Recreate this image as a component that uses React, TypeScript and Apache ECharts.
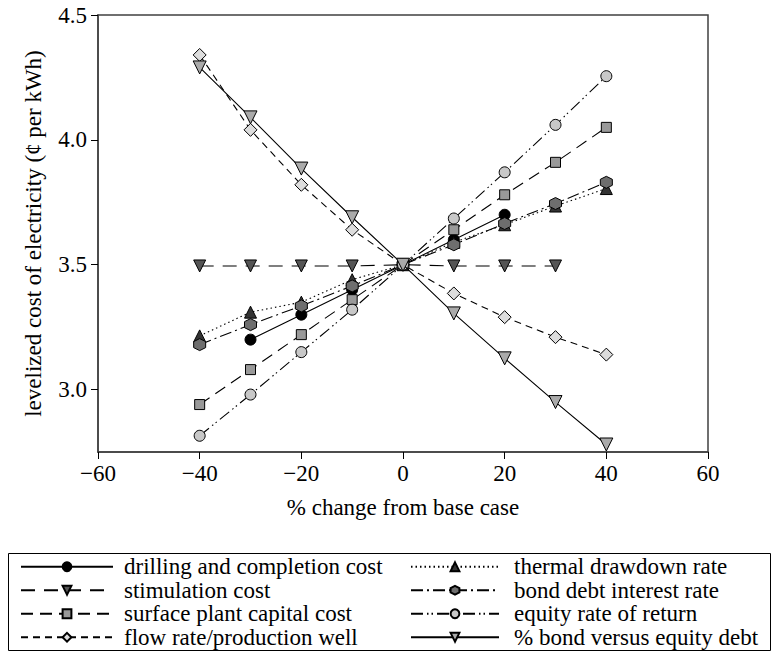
import React, { useEffect, useRef } from "react";
import * as echarts from "echarts";

const xValues = [-40, -30, -20, -10, 0, 10, 20, 30, 40];
const seriesNames = [
  "drilling and completion cost",
  "stimulation cost",
  "surface plant capital cost",
  "flow rate/production well",
  "thermal drawdown rate",
  "bond debt interest rate",
  "equity rate of return",
  "% bond versus equity debt",
];
const drilling = [null, 3.2, 3.3, 3.4, 3.5, 3.6, 3.7, null, null];
const stimulation = [3.495, 3.495, 3.495, 3.495, 3.5, 3.495, 3.495, 3.495, null];
const surfacePlant = [2.94, 3.08, 3.22, 3.36, 3.5, 3.64, 3.78, 3.91, 4.05];
const flowRate = [4.34, 4.04, 3.82, 3.64, 3.5, 3.385, 3.29, 3.21, 3.14];
const thermal = [3.215, 3.31, 3.35, 3.44, 3.5, 3.59, 3.66, 3.735, 3.805];
const bondInterest = [3.18, 3.26, 3.335, 3.415, 3.5, 3.58, 3.665, 3.745, 3.83];
const equityReturn = [2.815, 2.98, 3.15, 3.32, 3.5, 3.685, 3.87, 4.06, 4.255];
const bondVsEquity = [4.29, 4.09, 3.885, 3.69, 3.5, 3.305, 3.125, 2.95, 2.78];
const xTicks = [-60, -40, -20, 0, 20, 40, 60];
const yTicks = [3.0, 3.5, 4.0, 4.5];

const FONT = "'Liberation Serif', 'Times New Roman', serif";
const HEX = "path://M0,-10 L8.66,-5 L8.66,5 L0,10 L-8.66,5 L-8.66,-5 Z";

const styles = [
  { symbol: "circle", size: 11, rotate: 0, fill: "#000000", dash: "solid" as any },
  { symbol: "triangle", size: 12, rotate: 180, fill: "#555555", dash: [14, 9] },
  { symbol: "rect", size: 10, rotate: 0, fill: "#999999", dash: [12, 7] },
  { symbol: "diamond", size: 13, rotate: 0, fill: "#dddddd", dash: [7, 5] },
  { symbol: "triangle", size: 12, rotate: 0, fill: "#333333", dash: [1.5, 3] },
  { symbol: HEX, size: 12, rotate: 0, fill: "#6e6e6e", dash: [12, 4, 2, 4] },
  { symbol: "circle", size: 11, rotate: 0, fill: "#c8c8c8", dash: [12, 4, 1.5, 3, 1.5, 4] },
  { symbol: "triangle", size: 13, rotate: 180, fill: "#aaaaaa", dash: "solid" as any },
];
const dataSets = [drilling, stimulation, surfacePlant, flowRate, thermal, bondInterest, equityReturn, bondVsEquity];

export default function App() {
  const ref = useRef<HTMLDivElement>(null);
  useEffect(() => {
    if (!ref.current) return;
    const chart = echarts.init(ref.current, null, { renderer: "svg" });
    const series = dataSets.map((d, i) => ({
      name: seriesNames[i],
      type: "line",
      data: xValues.map((x, j) => [x, d[j]]),
      connectNulls: false,
      symbol: styles[i].symbol,
      symbolSize: styles[i].size,
      symbolRotate: styles[i].rotate,
      itemStyle: { color: styles[i].fill, borderColor: "#000", borderWidth: 1 },
      lineStyle: { color: "#000", width: 1.1, type: styles[i].dash },
      z: 2 + i,
    }));
    const legendCommon = {
      orient: "vertical",
      padding: 0,
      itemGap: 0,
      itemWidth: 92,
      itemHeight: 11,
      selectedMode: false,
      textStyle: { fontFamily: FONT, fontSize: 23, color: "#000", lineHeight: 23.5, padding: [0, 0, 0, 6] },
    };
    chart.setOption({
      animation: false,
      textStyle: { fontFamily: FONT },
      grid: {
        left: 98,
        top: 15,
        right: 63,
        bottom: 200,
        show: true,
        borderColor: "#404040",
        borderWidth: 1.5,
        backgroundColor: "transparent",
      },
      xAxis: {
        type: "value",
        min: -60,
        max: 60,
        interval: 20,
        name: "% change from base case",
        nameLocation: "middle",
        nameGap: 44,
        nameTextStyle: { fontFamily: FONT, fontSize: 23, color: "#000" },
        axisLine: { show: true, onZero: false, lineStyle: { color: "#404040", width: 1.5 } },
        axisTick: { show: true, length: 7, lineStyle: { color: "#000", width: 1 }, customValues: xTicks },
        axisLabel: {
          fontFamily: FONT,
          fontSize: 23,
          color: "#000",
          margin: 10,
          customValues: xTicks,
          formatter: (v: number) => String(v).replace("-", "\u2212"),
        },
        splitLine: { show: false },
      },
      yAxis: {
        type: "value",
        min: 2.75,
        max: 4.5,
        name: "levelized cost of electricity (\u00a2 per kWh)",
        nameLocation: "middle",
        nameGap: 53,
        nameTextStyle: { fontFamily: FONT, fontSize: 23, color: "#000" },
        axisLine: { show: true, onZero: false, lineStyle: { color: "#404040", width: 1.5 } },
        axisTick: { show: true, length: 7, lineStyle: { color: "#000", width: 1 }, customValues: yTicks },
        axisLabel: {
          fontFamily: FONT,
          fontSize: 23,
          color: "#000",
          margin: 11,
          customValues: yTicks,
          formatter: (v: number) => v.toFixed(1),
        },
        splitLine: { show: false },
      },
      legend: [
        { ...legendCommon, left: 20, top: 555, data: seriesNames.slice(0, 4) },
        { ...legendCommon, left: 410, top: 555, itemWidth: 88, textStyle: { ...legendCommon.textStyle, padding: [0, 0, 0, 10] }, data: seriesNames.slice(4) },
      ],
      graphic: [
        {
          type: "rect",
          shape: { x: 8.5, y: 553.5, width: 762, height: 97 },
          style: { fill: "none", stroke: "#000", lineWidth: 1 },
          silent: true,
        },
      ],
      series,
    });
    return () => chart.dispose();
  }, []);
  return <div ref={ref} style={{ width: 771, height: 652, position: "absolute", left: 0, top: 0 }} />;
}
